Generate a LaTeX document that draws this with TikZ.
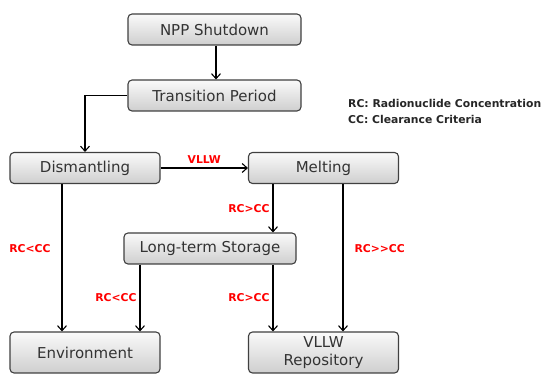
\documentclass[tikz,border=0pt]{standalone}
\usepackage{fontspec}
\setmainfont{DejaVu Sans}
\usetikzlibrary{arrows.meta}

\begin{document}
\begin{tikzpicture}[x=1pt, y=-1pt,
box/.style={draw=black!75, line width=1.1pt, rounded corners=4pt,
    top color=gray!4, bottom color=gray!38, inner sep=0pt,
    font=\fontsize{15}{18}\selectfont, text=black!80, align=center},
lbl/.style={text=red, font=\fontsize{10.8}{12}\selectfont\bfseries, inner sep=1pt},
link/.style={line width=1.1pt, -{Straight Barb[length=5pt, width=9pt, line width=1.1pt]}}
]
\useasboundingbox (0,0) rectangle (547,374);

% nodes
\node[box, minimum width=173pt, minimum height=31pt] (shut) at (214.5,29.5) {NPP Shutdown};
\node[box, minimum width=173pt, minimum height=31pt] (trans) at (214.5,95.5) {Transition Period};
\node[box, minimum width=150pt, minimum height=31pt] (dism) at (85,168) {Dismantling};
\node[box, minimum width=150pt, minimum height=31pt] (melt) at (323.5,168) {Melting};
\node[box, minimum width=172pt, minimum height=31pt] (lts) at (210,248.5) {Long-term Storage};
\node[box, minimum width=150pt, minimum height=41pt] (env) at (85,352.5) {Environment};
\node[box, minimum width=150pt, minimum height=41pt] (repo) at (323.5,352.5) {VLLW\\Repository};

\node[anchor=north west, align=left, inner sep=0pt,
      font=\fontsize{10.8}{16}\selectfont\bfseries, text=black!85] (legend) at (348,99)
      {RC: Radionuclide Concentration\\CC: Clearance Criteria};

% column helpers
\coordinate (c1) at (62,0);
\coordinate (c2) at (140,0);
\coordinate (c3) at (273,0);
\coordinate (c4) at (343,0);

% connectors
\draw[link] (shut.south -| 216,0) -- (trans.north -| 216,0);
\draw[link] (trans.west) -| (dism.north);
\draw[link] (dism.east) -- node[lbl, above=3pt] (l0) {VLLW} (melt.west);
\draw[link] (dism.south -| c1) -- node[lbl, left=10pt, pos=0.44] (l1) {RC<CC} (env.north -| c1);
\draw[link] (melt.south -| c3) -- node[lbl, left=2pt] (l2) {RC>CC} (lts.north -| c3);
\draw[link] (lts.south -| c2) -- node[lbl, left=2pt] (l3) {RC<CC} (env.north -| c2);
\draw[link] (lts.south -| c3) -- node[lbl, left=2pt] (l4) {RC>CC} (repo.north -| c3);
\draw[link] (melt.south -| c4) -- node[lbl, right=10pt, pos=0.44] (l5) {RC>{}>CC} (repo.north -| c4);

\end{tikzpicture}
\end{document}
